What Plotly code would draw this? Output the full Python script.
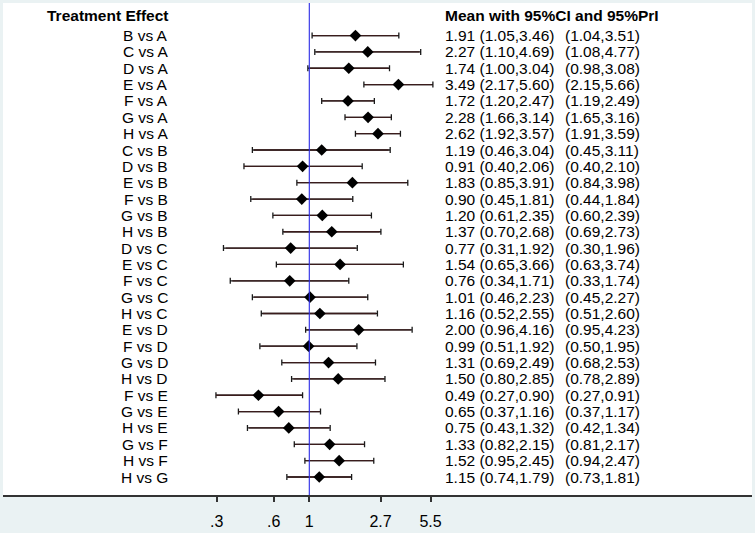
import math
import plotly.graph_objects as go

# ── Data ────────────────────────────────────────────────────
comparisons = [
    "B vs A", "C vs A", "D vs A", "E vs A", "F vs A", "G vs A", "H vs A",
    "C vs B", "D vs B", "E vs B", "F vs B", "G vs B", "H vs B",
    "D vs C", "E vs C", "F vs C", "G vs C", "H vs C",
    "E vs D", "F vs D", "G vs D", "H vs D",
    "F vs E", "G vs E", "H vs E",
    "G vs F", "H vs F",
    "H vs G",
]
mean = [1.91, 2.27, 1.74, 3.49, 1.72, 2.28, 2.62,
        1.19, 0.91, 1.83, 0.90, 1.20, 1.37,
        0.77, 1.54, 0.76, 1.01, 1.16,
        2.00, 0.99, 1.31, 1.50,
        0.49, 0.65, 0.75,
        1.33, 1.52,
        1.15]
ci_lo = [1.05, 1.10, 1.00, 2.17, 1.20, 1.66, 1.92,
         0.46, 0.40, 0.85, 0.45, 0.61, 0.70,
         0.31, 0.65, 0.34, 0.46, 0.52,
         0.96, 0.51, 0.69, 0.80,
         0.27, 0.37, 0.43,
         0.82, 0.95,
         0.74]
ci_hi = [3.46, 4.69, 3.04, 5.60, 2.47, 3.14, 3.57,
         3.04, 2.06, 3.91, 1.81, 2.35, 2.68,
         1.92, 3.66, 1.71, 2.23, 2.55,
         4.16, 1.92, 2.49, 2.85,
         0.90, 1.16, 1.32,
         2.15, 2.45,
         1.79]
pri_lo = [1.04, 1.08, 0.98, 2.15, 1.19, 1.65, 1.91,
          0.45, 0.40, 0.84, 0.44, 0.60, 0.69,
          0.30, 0.63, 0.33, 0.45, 0.51,
          0.95, 0.50, 0.68, 0.78,
          0.27, 0.37, 0.42,
          0.81, 0.94,
          0.73]
pri_hi = [3.51, 4.77, 3.08, 5.66, 2.49, 3.16, 3.59,
          3.11, 2.10, 3.98, 1.84, 2.39, 2.73,
          1.96, 3.74, 1.74, 2.27, 2.60,
          4.23, 1.95, 2.53, 2.89,
          0.91, 1.17, 1.34,
          2.17, 2.47,
          1.81]

tick_vals = [math.exp(-1.3), math.exp(-0.5), 1, math.exp(1), math.exp(1.7)]
tick_text = [".3", ".6", "1", "2.7", "5.5"]

FONT = "Liberation Sans, Arial, sans-serif"
rows = list(range(len(comparisons)))

fig = go.Figure()

# prediction interval (outer, with caps)
fig.add_trace(go.Scatter(
    x=mean, y=rows, mode="markers",
    marker=dict(size=1, color="rgba(0,0,0,0)"),
    error_x=dict(type="data", symmetric=False,
                 array=[h - m for h, m in zip(pri_hi, mean)],
                 arrayminus=[m - l for m, l in zip(mean, pri_lo)],
                 color="#1a1a1a", thickness=1.3, width=3),
    hoverinfo="skip", showlegend=False,
))
# confidence interval
fig.add_trace(go.Scatter(
    x=mean, y=rows, mode="markers",
    marker=dict(size=1, color="rgba(0,0,0,0)"),
    error_x=dict(type="data", symmetric=False,
                 array=[h - m for h, m in zip(ci_hi, mean)],
                 arrayminus=[m - l for m, l in zip(mean, ci_lo)],
                 color="#3a1c1c", thickness=1.3, width=0),
    hoverinfo="skip", showlegend=False,
))
# point estimates
fig.add_trace(go.Scatter(
    x=mean, y=rows, mode="markers",
    marker=dict(symbol="diamond", size=9, color="black"),
    showlegend=False,
))

# reference line at 1
fig.add_shape(type="line", x0=1, x1=1, xref="x", y0=0, y1=1, yref="paper",
              line=dict(color="#2a2ae6", width=1.1))

# ── Text columns ────────────────────────────────────────────
annots = [
    dict(x=0.2226, y=-1.25, xanchor="right", text="<b>Treatment Effect</b>"),
    dict(x=0.587, y=-1.25, xanchor="left", text="<b>Mean with 95%CI and 95%PrI</b>"),
]
for i, name in enumerate(comparisons):
    annots.append(dict(x=0.2226, y=i, xanchor="right", text=name))
    annots.append(dict(x=0.587, y=i, xanchor="left",
                       text=f"{mean[i]:.2f} ({ci_lo[i]:.2f},{ci_hi[i]:.2f})"))
    annots.append(dict(x=0.7473, y=i, xanchor="left",
                       text=f"({pri_lo[i]:.2f},{pri_hi[i]:.2f})"))
for a in annots:
    fig.add_annotation(xref="paper", yref="y", yanchor="middle", showarrow=False,
                       font=dict(family=FONT, size=15.5, color="black"), **a)

fig.update_xaxes(
    type="log",
    range=[math.log10(math.exp(-4.296)), math.log10(math.exp(6.209))],
    tickvals=tick_vals, ticktext=tick_text,
    showgrid=False, zeroline=False,
    showline=True, linecolor="#333333", linewidth=1.5, mirror=False,
    ticks="outside", ticklen=5, tickcolor="#333333", tickwidth=1.5,
    ticklabelstandoff=6,
    tickfont=dict(family=FONT, size=16, color="black"),
)
fig.update_yaxes(range=[28.1, -1.99], visible=False, showgrid=False, zeroline=False)

fig.update_layout(
    width=755, height=533,
    margin=dict(l=3, r=3, t=3, b=35),
    paper_bgcolor="#eaf2f3",
    plot_bgcolor="white",
    font=dict(family=FONT),
)

# page has a default 8px body margin; drop it so the figure fills the window
fig.write_html("out.html", config={"displayModeBar": False},
               post_script="document.body.style.margin='0';")
